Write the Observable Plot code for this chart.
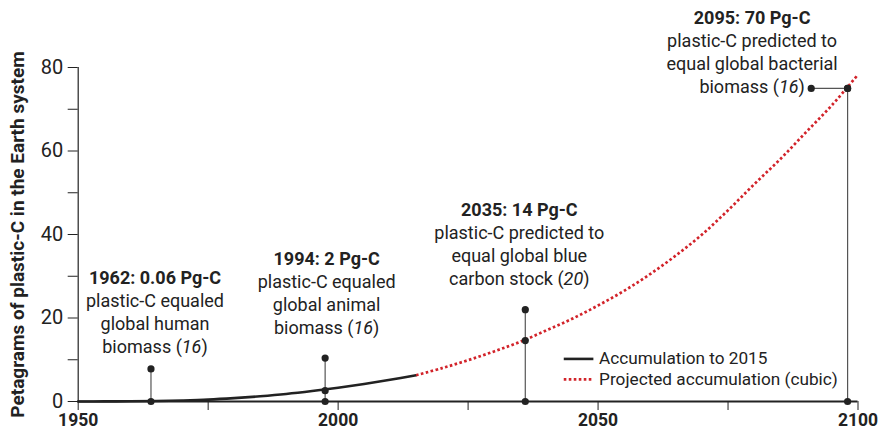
<!DOCTYPE html>
<html><head><meta charset="utf-8">
<script src="https://cdn.jsdelivr.net/npm/d3@7"></script>
<script src="https://cdn.jsdelivr.net/npm/@observablehq/plot@0.6"></script>
<style>
body{margin:0;background:#fff;}
#chart svg{font-family:Roboto,"DejaVu Sans Condensed",sans-serif;}
</style></head><body><div id="chart"></div>
<script>
// Historical accumulation (solid)
const histYears  = [1950, 1955, 1960, 1965, 1970, 1975, 1980, 1985, 1990, 1995, 2000, 2005, 2010, 2015];
const histValues = [0, 0.02, 0.06, 0.12, 0.25, 0.45, 0.8, 1.25, 1.8, 2.5, 3.3, 4.2, 5.2, 6.3];
// Projected accumulation (cubic, dotted)
const projYears  = [2015, 2020, 2025, 2030, 2035, 2040, 2045, 2050, 2055, 2060, 2065, 2070, 2075, 2080, 2085, 2090, 2095, 2100];
const projValues = [6.3, 8.0, 9.9, 12.0, 14.3, 17.0, 19.8, 23.0, 26.5, 30.5, 35.0, 40.0, 45.8, 52.0, 58.0, 64.5, 71.0, 78.3];
// Annotations
const noteTitles = ["1962: 0.06 Pg-C", "1994: 2 Pg-C", "2035: 14 Pg-C", "2095: 70 Pg-C"];
const noteBodies = [
  "plastic-C equaled\nglobal human\nbiomass (16)",
  "plastic-C equaled\nglobal animal\nbiomass (16)",
  "plastic-C predicted to\nequal global blue\ncarbon stock (20)",
  "plastic-C predicted to\nequal global bacterial\nbiomass (16)"
];
const noteYears  = [1964, 1997.5, 2036, 2098];
const noteTops   = [7.8, 10.4, 22, 75];
const noteCurve  = [null, 2.6, 14.6, 75];
const noteLeader = [null, null, null, 2091];
// Axis ticks
const xTicks = [1950, 2000, 2050, 2100];
const xMinorTicks = [1975, 2025, 2075];
const yTicks = [0, 20, 40, 60, 80];
const yMinorTicks = [10, 30, 50, 70];
const yLabel = "Petagrams of plastic-C in the Earth system";
const legendLabels = ["Accumulation to 2015", "Projected accumulation (cubic)"];

const hist = histYears.map((x, i) => ({x, y: histValues[i]}));
const proj = projYears.map((x, i) => ({x, y: projValues[i]}));
const notes = noteYears.map((x, i) => ({x, top: noteTops[i], curve: noteCurve[i], leader: noteLeader[i],
  text: noteTitles[i] + "\n" + noteBodies[i]}));

const RED = "#d2232a", INK = "#222";
// layout (pixel offsets for annotation text blocks)
const noteDx = [4, 1.5, -6, -95.5];
const noteDy = [-16, -24, -25, 4.5];
// legend placement in data space
const legX1 = 2043.4, legX2 = 2049.1, legTX = 2050.2, legY = [10.2, 5.3];

const marks = [
  Plot.ruleX([1950], {y1: 0, y2: 80, stroke: INK, strokeWidth: 1.2}),
  Plot.axisY(yTicks, {tickSize: 10, tickPadding: 5, fontSize: 20, stroke: INK, fill: INK, label: null}),
  Plot.axisY(yMinorTicks, {tickSize: 10, text: null, stroke: INK, label: null}),
  Plot.axisX(xTicks.concat(xMinorTicks), {tickSize: 9, tickPadding: 3, fontSize: 17.5, fontWeight: "bold", stroke: INK, fill: INK, label: null,
    tickFormat: d => xTicks.includes(d) ? String(d) : ""}),
  Plot.text([yLabel], {frameAnchor: "left", textAnchor: "middle", rotate: -90, dx: -60.5, text: d => d, fontSize: 19, fontWeight: "bold", fill: INK}),
  // stems
  Plot.ruleX(notes, {x: "x", y1: 0, y2: "top", stroke: "#555", strokeWidth: 1.2}),
  Plot.link(notes.filter(d => d.leader), {x1: "leader", x2: "x", y1: "top", y2: "top", stroke: "#555", strokeWidth: 1.2}),
  // curves
  Plot.line(hist, {x: "x", y: "y", stroke: INK, strokeWidth: 2.6, curve: "catmull-rom"}),
  Plot.line(proj, {x: "x", y: "y", stroke: RED, strokeWidth: 2.7, strokeDasharray: "2.6,2.4", strokeLinecap: "butt", curve: "catmull-rom"}),
  Plot.ruleY([0], {x1: 1950, x2: 2100, stroke: INK, strokeWidth: 2.2}),
  // dots
  Plot.dot(notes, {x: "x", y: 0, r: 3.6, fill: INK}),
  Plot.dot(notes, {x: "x", y: "top", r: 3.6, fill: INK}),
  Plot.dot(notes.filter(d => d.curve != null), {x: "x", y: "curve", r: 3.6, fill: INK}),
  Plot.dot(notes.filter(d => d.leader), {x: "leader", y: "top", r: 3.6, fill: INK}),
  // annotation texts
  ...notes.map((n, i) => Plot.text([n], {x: "x", y: "top", text: "text", lineAnchor: "bottom", dx: noteDx[i], dy: noteDy[i],
    fontSize: 18, lineHeight: 1.28, fill: INK})),
  // legend
  Plot.link([0], {x1: () => legX1, x2: () => legX2, y1: () => legY[0], y2: () => legY[0], stroke: INK, strokeWidth: 2.6}),
  Plot.link([0], {x1: () => legX1, x2: () => legX2, y1: () => legY[1], y2: () => legY[1], stroke: RED, strokeWidth: 2.7, strokeDasharray: "2.6,2.4", strokeLinecap: "butt"}),
  Plot.text(legendLabels, {x: () => legTX, y: (d, i) => legY[i], text: d => d, textAnchor: "start", lineAnchor: "middle", fontSize: 17.2, fill: INK})
];

const chart = Plot.plot({
  width: 881, height: 431,
  marginLeft: 77.7, marginRight: 23.5, marginTop: 67, marginBottom: 30,
  x: {domain: [1950, 2100]},
  y: {domain: [0, 80]},
  marks
});
// style: bold first line of notes, italic reference numbers
chart.querySelectorAll("tspan, text").forEach(el => {
  if (el.children.length) return;
  const t = el.textContent;
  if (/^\d{4}: /.test(t)) el.setAttribute("font-weight", "bold");
  const m = t.match(/^(.*\()(\d+)(\).*)$/);
  if (m) {
    el.textContent = m[1];
    const it = document.createElementNS("http://www.w3.org/2000/svg", "tspan");
    it.setAttribute("font-style", "italic");
    it.textContent = m[2];
    el.appendChild(it);
    el.appendChild(document.createTextNode(m[3]));
  }
});
document.getElementById("chart").appendChild(chart);
</script></body></html>
